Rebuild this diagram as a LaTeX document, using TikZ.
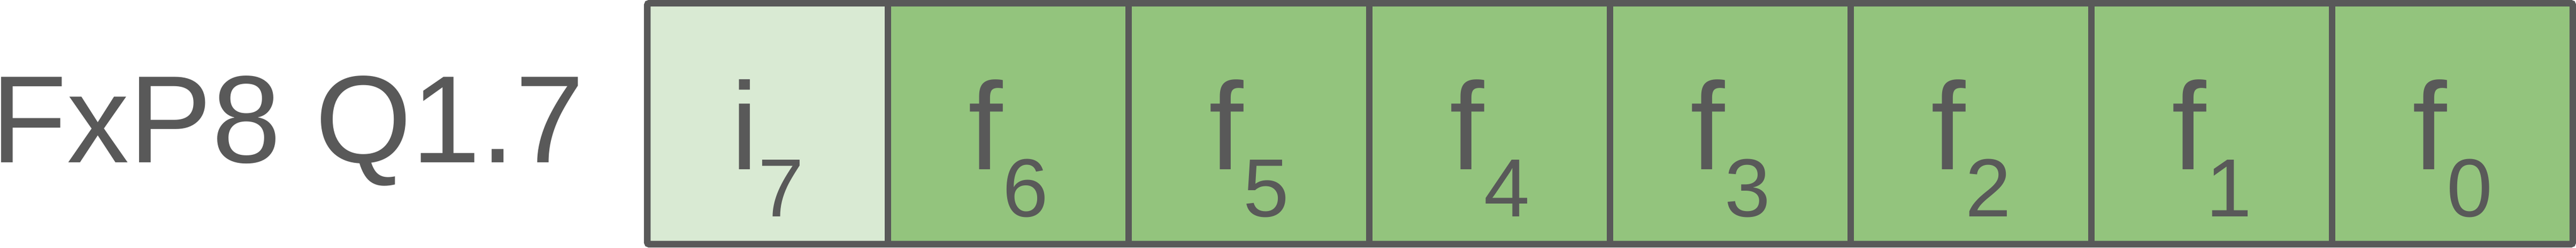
\documentclass[tikz,border=0pt]{standalone}
\usepackage{fontspec}
\setmainfont{Liberation Sans}
\definecolor{edgegray}{HTML}{595959}
\definecolor{lightgreen}{HTML}{D9EAD3}
\definecolor{midgreen}{HTML}{93C47D}
\newcommand{\bigtxt}{\fontsize{66}{79}\selectfont}
\newcommand{\smalltxt}{\fontsize{43.8}{52}\selectfont}
\newcommand{\bitlabel}[2]{\bigtxt #1\raisebox{-0.88cm}{\smalltxt #2}}
\begin{document}
\begin{tikzpicture}
\useasboundingbox (0,0) rectangle (48.16,4.63);
\tikzset{
  cellbox/.style={minimum width=4.5cm, minimum height=4.5cm, inner sep=0pt, outer sep=0pt, anchor=south west},
  intcell/.style={cellbox, fill=lightgreen},
  fraccell/.style={cellbox, fill=midgreen},
  celltext/.style={anchor=base, inner sep=0pt, text=edgegray},
  border/.style={draw=edgegray, line width=3.56pt},
}
\node[celltext, anchor=base west] (title) at (-0.17,1.59) {\bigtxt FxP8 Q1.7};
\node[intcell] (c7) at (12.10,0.07) {};
\node[fraccell] (c6) at (16.60,0.07) {};
\node[fraccell] (c5) at (21.10,0.07) {};
\node[fraccell] (c4) at (25.60,0.07) {};
\node[fraccell] (c3) at (30.10,0.07) {};
\node[fraccell] (c2) at (34.60,0.07) {};
\node[fraccell] (c1) at (39.10,0.07) {};
\node[fraccell] (c0) at (43.60,0.07) {};
\draw[border, rounded corners=0.04cm] (c7.south west) rectangle (c0.north east);
\foreach \n in {6,5,4,3,2,1,0}{
  \draw[border] (c\n.north west) -- (c\n.south west);
}
\node[celltext] (t7) at ([yshift=-0.86cm]c7.center) {\bitlabel{i}{7}};
\foreach \n in {6,5,4,3,2,1,0}{
  \node[celltext] (t\n) at ([yshift=-0.86cm]c\n.center) {\bitlabel{f}{\n}};
}
\end{tikzpicture}
\end{document}
